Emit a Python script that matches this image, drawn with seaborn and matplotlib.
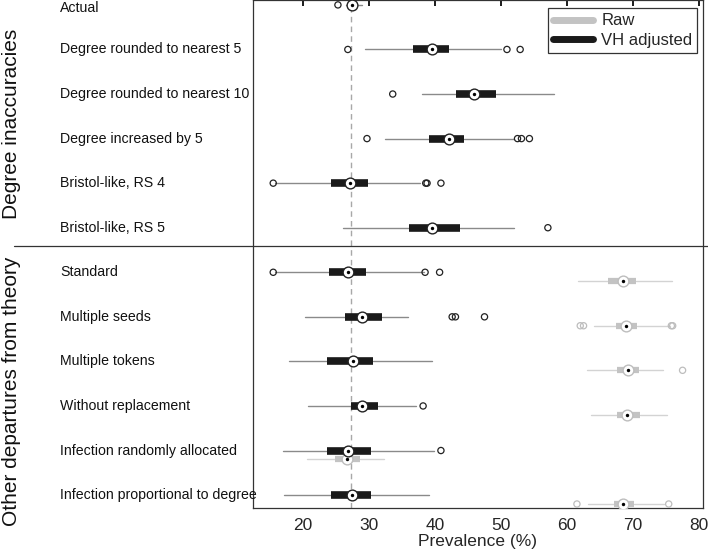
import matplotlib
matplotlib.use("Agg")
import matplotlib.pyplot as plt
import matplotlib.transforms as mtransforms
from matplotlib.lines import Line2D
import numpy as np
import pandas as pd
import seaborn as sns

# --- data (prevalence %) ---
labels = ["Actual", "Degree rounded to nearest 5", "Degree rounded to nearest 10",
          "Degree increased by 5", "Bristol-like, RS 4", "Bristol-like, RS 5",
          "Standard", "Multiple seeds", "Multiple tokens", "Without replacement",
          "Infection randomly allocated", "Infection proportional to degree"]
groups = ["Degree inaccuracies", "Other departures from theory"]
actual_value = 27.3

# VH adjusted: whisker low, q1, median, q3, whisker high
vh_wlo = [26.5, 29.4, 38.1, 32.4, 15.8, 26.0, 15.8, 20.3, 17.9, 20.8, 17.0, 17.2]
vh_q1 = [27.1, 36.7, 43.2, 39.1, 24.2, 36.1, 24.0, 26.4, 23.6, 27.3, 23.6, 24.2]
vh_med = [27.4, 39.5, 45.9, 42.1, 27.1, 39.6, 26.9, 28.9, 27.6, 29.0, 26.8, 27.4]
vh_q3 = [27.7, 42.1, 49.3, 44.4, 29.8, 43.8, 29.6, 31.9, 30.6, 31.4, 30.3, 30.3]
vh_whi = [28.9, 50.0, 58.0, 51.9, 37.7, 51.9, 38.3, 35.9, 39.5, 37.2, 39.8, 39.1]
vh_out = [[25.3], [26.8, 50.9, 52.9], [33.6], [29.7, 52.5, 53.1, 54.3],
          [15.5, 38.6, 38.8, 40.9], [57.1], [15.5, 38.5, 40.7],
          [42.6, 43.1, 47.5], [], [38.2], [40.9], []]

# Raw estimates (only for the "other departures" rows)
raw_rows = [6, 7, 8, 9, 10, 11]
raw_wlo = [61.7, 64.1, 63.0, 63.7, 20.6, 63.2]
raw_q1 = [66.2, 67.4, 67.5, 67.5, 24.9, 67.1]
raw_med = [68.5, 68.9, 69.3, 69.1, 26.6, 68.5]
raw_q3 = [70.4, 70.6, 70.9, 71.1, 28.7, 70.2]
raw_whi = [75.9, 75.6, 74.5, 75.1, 32.3, 74.7]
raw_out = [[], [62.0, 62.5, 75.8, 76.0], [77.5], [], [], [61.5, 75.4]]

sns.set_theme(style="white")
plt.rcParams["font.family"] = ["Liberation Sans", "DejaVu Sans"]

fig = plt.figure(figsize=(7.08, 5.52), dpi=100)
ax = fig.add_axes([0.357, 0.0797, 0.636, 0.9203])

pos_vh = np.arange(1, len(labels) + 1)
pos_raw = np.array(raw_rows) + 1 + 0.2


def make_stats(wlo, q1, med, q3, whi, out):
    return [dict(whislo=a, q1=b, med=c, q3=d, whishi=e, fliers=f)
            for a, b, c, d, e, f in zip(wlo, q1, med, q3, whi, out)]


def draw(stats, pos, box_c, whisk_c, flier_c, lw_box):
    ax.bxp(stats, positions=pos, vert=False, widths=0.0, showcaps=False,
           showfliers=False, patch_artist=False,
           boxprops=dict(color=box_c, linewidth=0),
           whiskerprops=dict(color=whisk_c, linewidth=1.0),
           medianprops=dict(linewidth=0))
    # thick box as a line from q1 to q3
    for s, p in zip(stats, pos):
        ax.plot([s["q1"], s["q3"]], [p, p], color=box_c, lw=lw_box,
                solid_capstyle="butt", zorder=3)
    fl = pd.DataFrame([(v, p) for s, p in zip(stats, pos) for v in s["fliers"]],
                      columns=["x", "y"])
    if len(fl):
        sns.scatterplot(data=fl, x="x", y="y", ax=ax, s=20, marker="o",
                        facecolor="none", edgecolor=flier_c, linewidth=0.9,
                        zorder=4, legend=False)
    med = pd.DataFrame({"x": [s["med"] for s in stats], "y": pos})
    sns.scatterplot(data=med, x="x", y="y", ax=ax, s=60, marker="o",
                    color="white", edgecolor=flier_c, linewidth=1.0,
                    zorder=5, legend=False)
    sns.scatterplot(data=med, x="x", y="y", ax=ax, s=6, marker="o",
                    color="black", edgecolor="black", linewidth=0,
                    zorder=6, legend=False)


ax.axvline(actual_value, color="#a8a8a8", ls=(0, (4, 3)), lw=1.0, zorder=1)

draw(make_stats(raw_wlo, raw_q1, raw_med, raw_q3, raw_whi, raw_out), pos_raw,
     "#c3c3c3", "#d3d3d3", "#bdbdbd", 4.5)
draw(make_stats(vh_wlo, vh_q1, vh_med, vh_q3, vh_whi, vh_out), pos_vh,
     "#1a1a1a", "#8a8a8a", "#222222", 5.5)

ax.set_xlim(12.4, 80.6)
ax.set_ylim(12.29, 0.89)
ax.set_xticks([20, 30, 40, 50, 60, 70, 80])
ax.set_yticks([])
ax.set_ylabel("")
ax.set_xlabel("Prevalence (%)", fontsize=12.5, labelpad=1)
ax.tick_params(axis="x", direction="in", length=4, top=True, labelsize=12.5,
               pad=7, color="black")
for sp in ax.spines.values():
    sp.set_color("#333333")
    sp.set_linewidth(0.9)

# row labels, left aligned in figure space
tr = mtransforms.blended_transform_factory(fig.transFigure, ax.transData)
for i, lab in enumerate(labels):
    ax.text(60 / 708, i + 1 + (0.06 if i == 0 else 0), lab, transform=tr,
            ha="left", va="center", fontsize=10.2, color="#111111",
            clip_on=False)
ax.text(12 / 708, 3.67, groups[0], transform=tr, rotation=90, ha="center",
        va="center", fontsize=15, color="#111111", clip_on=False)
ax.text(12 / 708, 9.67, groups[1], transform=tr, rotation=90, ha="center",
        va="center", fontsize=15, color="#111111", clip_on=False)

# separator between the two groups
sep = Line2D([14 / 708, 1.0], [6.42, 6.42], transform=tr, color="#333333",
             lw=0.9, clip_on=False)
fig.add_artist(sep)

handles = [Line2D([], [], color="#c3c3c3", lw=5),
           Line2D([], [], color="#1a1a1a", lw=5)]
leg = ax.legend(handles, ["Raw", "VH adjusted"], loc="upper right",
                bbox_to_anchor=(0.995, 0.99), fontsize=12, frameon=True,
                fancybox=False, framealpha=1, edgecolor="#333333",
                handlelength=2.4, borderpad=0.3, labelspacing=0.25,
                handletextpad=0.5, borderaxespad=0.2)
leg.get_frame().set_linewidth(0.9)

fig.savefig("out.png", dpi=100)
